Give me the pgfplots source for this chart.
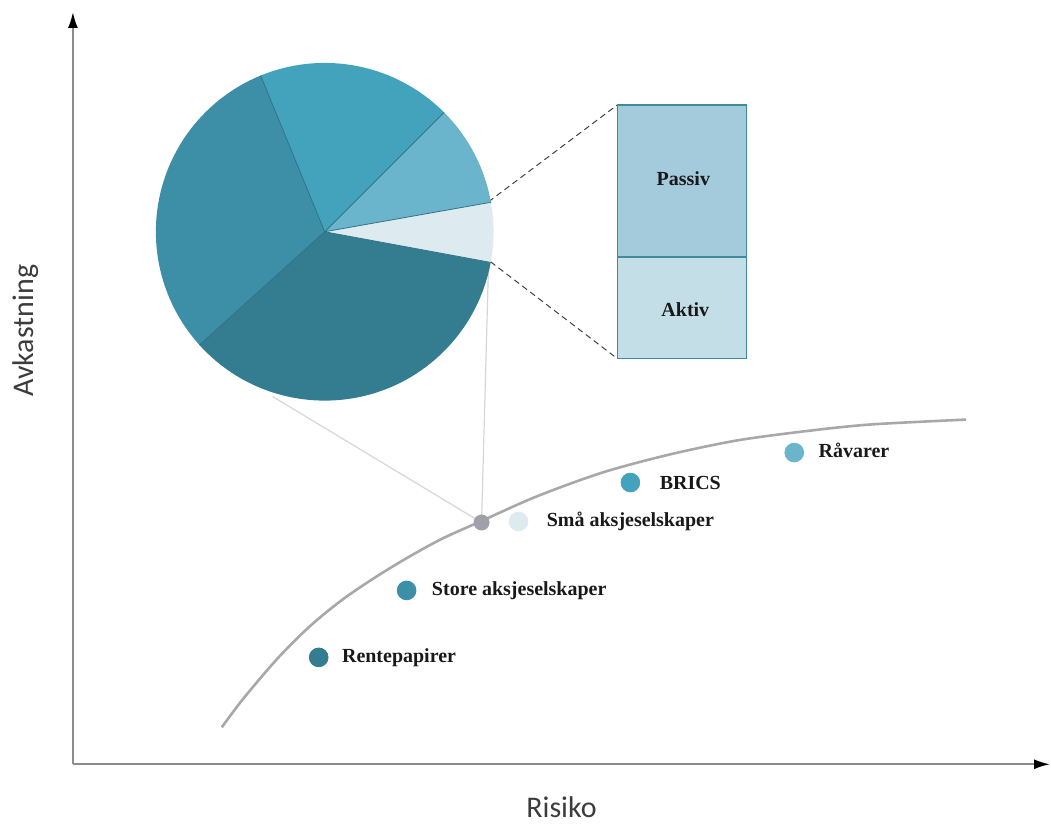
\documentclass[border=0pt]{standalone}
\usepackage{fontspec}
\setmainfont{Liberation Serif}
\newfontfamily\calib{Carlito}
\usepackage{pgfplots}
\pgfplotsset{compat=1.18}
\usetikzlibrary{arrows.meta}
\definecolor{cRente}{HTML}{347C90}
\definecolor{cStore}{HTML}{3D8FA8}
\definecolor{cBrics}{HTML}{44A3BC}
\definecolor{cRaa}{HTML}{6BB5CC}
\definecolor{cSmaa}{HTML}{DDEBF0}
\definecolor{cGray}{HTML}{A0A0A8}
\definecolor{curvegray}{HTML}{A8A8A8}
\definecolor{axisgray}{HTML}{8C8C8C}
\definecolor{labgray}{HTML}{3C3C3C}
\definecolor{pieedge}{HTML}{2F7386}
\definecolor{passiv}{HTML}{A3CBDC}
\definecolor{aktiv}{HTML}{C4DEE7}
\definecolor{boxedge}{HTML}{3F8A9E}
\definecolor{conegray}{HTML}{D6D6D6}
\begin{document}
\begin{tikzpicture}
\begin{axis}[
  x=0.5pt, y=0.5pt,
  xmin=73, xmax=1051, ymin=58, ymax=811,
  axis x line=bottom, axis y line=left,
  axis line style={draw=axisgray, line width=1pt, -{Latex[length=8pt,width=5pt,black]}},
  xtick=\empty, ytick=\empty,
  clip=false,
  xlabel={Risiko}, ylabel={Avkastning},
  xlabel style={at={(axis cs:562,15)}, anchor=center, font=\calib\fontsize{15}{18}\selectfont, text=labgray},
  ylabel style={at={(axis cs:26,492)}, anchor=center, font=\calib\fontsize{15}{18}\selectfont, text=labgray},
]
% bounding box of the whole picture
\path (axis cs:0,0) rectangle (axis cs:1051,823);

% efficient frontier
\addplot[smooth, curvegray, line width=1.3pt] coordinates {
  (222,95) (243,123) (277,163) (310,196) (343,223) (377,246) (410,266)
  (443,284) (483,302) (537,326) (603,350) (670,368) (737,382) (803,391)
  (870,398) (967,403)};

% cone lines from the point to the pie
\draw[conegray, line width=0.6pt] (axis cs:482,300) -- (axis cs:273,426);
\draw[conegray, line width=0.6pt] (axis cs:482,300) -- (axis cs:489,558);

% dashed zoom lines to the box
\draw[black!75, line width=0.5pt, densely dashed] (axis cs:489,621) -- (axis cs:618,718);
\draw[black!75, line width=0.5pt, densely dashed] (axis cs:491,561) -- (axis cs:618,464);

% zoom box
\filldraw[fill=passiv, draw=boxedge, line width=0.8pt] (axis cs:618,566) rectangle (axis cs:747,718);
\filldraw[fill=aktiv, draw=boxedge, line width=0.8pt] (axis cs:618,464) rectangle (axis cs:747,566);
\node[font=\bfseries\fontsize{10}{12}\selectfont, text=black!90] at (axis cs:684,644) {Passiv};
\node[font=\bfseries\fontsize{10}{12}\selectfont, text=black!90] at (axis cs:686,513) {Aktiv};

% asset classes
\addplot[only marks, mark=*, mark size=4.7pt, color=cRente] coordinates {(319,165)};
\addplot[only marks, mark=*, mark size=4.7pt, color=cStore] coordinates {(407,232)};
\addplot[only marks, mark=*, mark size=3.8pt, color=cGray] coordinates {(482,300)};
\addplot[only marks, mark=*, mark size=4.7pt, color=cSmaa] coordinates {(519,301)};
\addplot[only marks, mark=*, mark size=4.7pt, color=cBrics] coordinates {(631,340)};
\addplot[only marks, mark=*, mark size=4.7pt, color=cRaa] coordinates {(795,370)};

\node[anchor=west, inner sep=0pt, font=\bfseries\fontsize{10}{12}\selectfont, text=black!90] at (axis cs:342,165) {Rentepapirer};
\node[anchor=west, inner sep=0pt, font=\bfseries\fontsize{10}{12}\selectfont, text=black!90] at (axis cs:432,232) {Store aksjeselskaper};
\node[anchor=west, inner sep=0pt, font=\bfseries\fontsize{10}{12}\selectfont, text=black!90] at (axis cs:547,301) {Små aksjeselskaper};
\node[anchor=west, inner sep=0pt, font=\bfseries\fontsize{10}{12}\selectfont, text=black!90] at (axis cs:660,340) {BRICS};
\node[anchor=west, inner sep=0pt, font=\bfseries\fontsize{10}{12}\selectfont, text=black!90] at (axis cs:819,372) {Råvarer};

\coordinate (pc) at (axis cs:325,591);
\end{axis}

% pie chart: shares in percent, starting angle 222.1 degrees
\def\pr{84.5pt}
\def\angstart{222.1}
\foreach \p/\c in {35.4/cRente, 5.7/cSmaa, 9.7/cRaa, 18.7/cBrics, 30.5/cStore}{
  \pgfmathsetmacro\angend{\angstart+3.6*\p}
  \fill[\c] (pc) -- ++(\angstart:\pr) arc[start angle=\angstart, end angle=\angend, radius=\pr] -- cycle;
  \global\let\angstart\angend
}
\def\angstart{222.1}
\foreach \p in {35.4, 5.7, 9.7, 18.7, 30.5}{
  \draw[pieedge, line width=0.4pt] (pc) -- ++(\angstart:\pr);
  \pgfmathsetmacro\angend{\angstart+3.6*\p}
  \global\let\angstart\angend
}
\end{tikzpicture}
\end{document}
